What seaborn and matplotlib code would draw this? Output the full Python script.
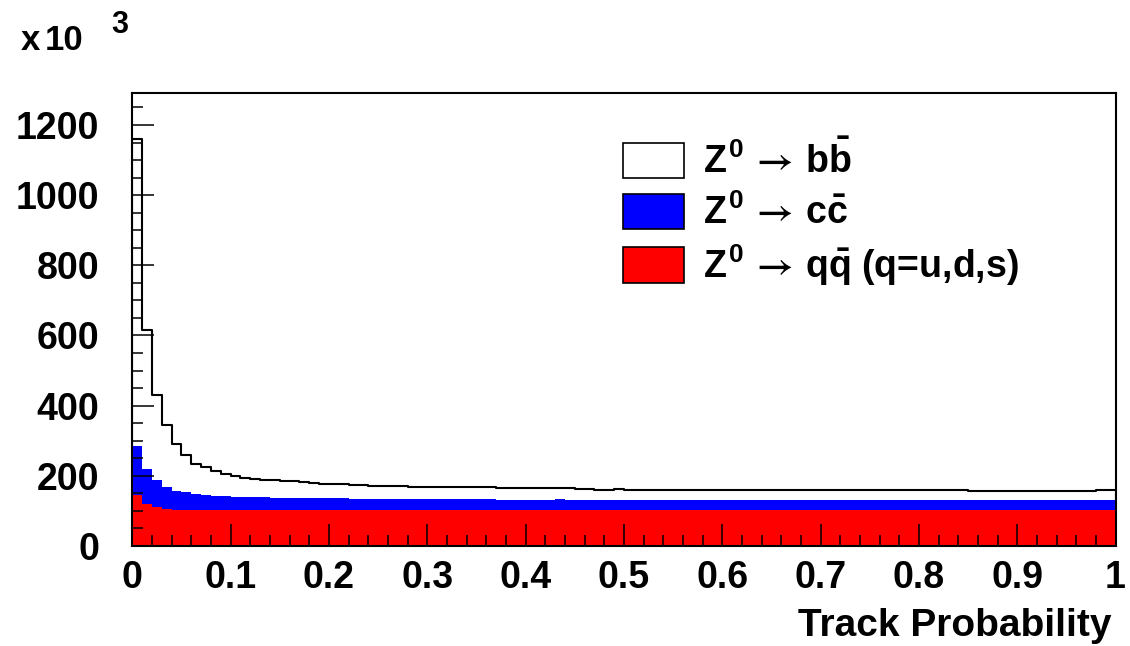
import numpy as np
import pandas as pd
import matplotlib
matplotlib.use("Agg")
import matplotlib.pyplot as plt
from matplotlib.patches import Patch
from matplotlib.ticker import MultipleLocator
import seaborn as sns

# track probability histogram, 100 bins on [0,1], counts in units of 10^3
# stacked heights as drawn: all flavours / uds+c / uds
n_bins = 100

all_flavours = [1161, 615, 430, 345, 290, 259, 234, 224, 214, 205,
                200, 195, 191, 189, 188, 186, 184, 182, 180, 178,
                177, 176, 175, 174, 172, 171, 171, 170, 169, 169,
                168, 168, 168, 167, 167, 167, 167, 166, 166, 166,
                166, 166, 166, 166, 165, 163, 163, 161, 161, 163,
                161, 160, 160, 160, 160, 160, 160, 160, 160, 160,
                160, 160, 160, 160, 160, 160, 160, 159, 159, 160,
                160, 161, 160, 160, 160, 160, 160, 160, 160, 160,
                160, 160, 160, 160, 160, 158, 158, 158, 158, 158,
                158, 158, 158, 158, 158, 158, 158, 158, 159, 159]

udsc = [284, 220, 187, 169, 158, 154, 147, 145, 143, 142,
        141, 140, 139, 139, 138, 138, 137, 137, 137, 136,
        136, 136, 135, 135, 135, 135, 134, 134, 134, 134,
        134, 133, 133, 133, 133, 133, 133, 132, 131, 132,
        132, 132, 132, 133, 132, 132, 132, 131, 131, 131,
        131, 131, 131, 131, 131, 131, 131, 131, 131, 131,
        131, 131, 131, 131, 131, 131, 131, 130, 131, 130,
        130, 130, 130, 130, 130, 130, 130, 131, 130, 130,
        131, 131, 130, 130, 131, 130, 130, 130, 130, 130,
        130, 130, 130, 130, 130, 130, 130, 130, 130, 130]

uds = [145, 119, 110, 105, 104, 104, 103, 104, 104, 103,
       103, 104, 104, 103, 103, 104, 103, 103, 104, 103,
       104, 103, 103, 104, 103, 103, 103, 104, 103, 103,
       103, 103, 104, 103, 103, 103, 103, 103, 104, 103,
       103, 103, 103, 103, 103, 103, 103, 103, 103, 103,
       104, 103, 103, 103, 103, 103, 103, 103, 103, 103,
       103, 103, 103, 103, 103, 103, 103, 103, 103, 103,
       103, 103, 103, 103, 103, 103, 103, 103, 103, 103,
       103, 103, 103, 103, 103, 103, 103, 103, 103, 103,
       103, 103, 103, 103, 103, 103, 103, 103, 103, 104]

legend_labels = [r'$Z^{0}\,\mathsf{\rightarrow}\,b\bar{b}$',
                 r'$Z^{0}\,\mathsf{\rightarrow}\,c\bar{c}$',
                 r'$Z^{0}\,\mathsf{\rightarrow}\,q\bar{q}$ (q=u,d,s)']
legend_colors = ['white', '#0000ff', '#ff0000']

df = pd.DataFrame({
    'prob': (np.arange(n_bins) + 0.5) / n_bins,
    'all': all_flavours,
    'udsc': udsc,
    'uds': uds,
})

sns.set_style("white")
plt.rcParams['font.family'] = ['Liberation Sans', 'DejaVu Sans']
plt.rcParams['font.weight'] = 'bold'
plt.rcParams['mathtext.fontset'] = 'custom'
plt.rcParams['mathtext.rm'] = 'Liberation Sans:bold'
plt.rcParams['mathtext.it'] = 'Liberation Sans:bold'
plt.rcParams['mathtext.bf'] = 'Liberation Sans:bold'
plt.rcParams['mathtext.sf'] = 'STIXGeneral'
for key in ['text.color', 'axes.labelcolor', 'xtick.color', 'ytick.color', 'axes.edgecolor']:
    plt.rcParams[key] = 'black'

fig = plt.figure(figsize=(11.3, 6.46), dpi=100)
ax = fig.add_axes([0.1171, 0.1548, 0.8701, 0.7017])

sns.histplot(data=df, x='prob', weights='all', bins=n_bins, binrange=(0, 1),
             element='step', fill=True, facecolor='white', edgecolor='black',
             linewidth=1.5, alpha=1, ax=ax)
sns.histplot(data=df, x='prob', weights='udsc', bins=n_bins, binrange=(0, 1),
             element='step', fill=True, facecolor='#0000ff', edgecolor='none',
             linewidth=0, alpha=1, ax=ax)
sns.histplot(data=df, x='prob', weights='uds', bins=n_bins, binrange=(0, 1),
             element='step', fill=True, facecolor='#ff0000', edgecolor='none',
             linewidth=0, alpha=1, ax=ax)

ax.set_xlim(0, 1)
ax.set_ylim(0, 1292)
ax.set_ylabel('')
ax.set_xlabel('Track Probability', fontsize=28, fontweight='bold', loc='right')
ax.xaxis.set_label_coords(0.9964, -0.137)

ax.xaxis.set_major_locator(MultipleLocator(0.1))
ax.xaxis.set_minor_locator(MultipleLocator(0.02))
ax.yaxis.set_major_locator(MultipleLocator(200))
ax.yaxis.set_minor_locator(MultipleLocator(50))
ax.set_xticks(np.arange(0, 1.01, 0.1))
ax.set_xticklabels(['0', '0.1', '0.2', '0.3', '0.4', '0.5', '0.6', '0.7', '0.8', '0.9', '1'])
ax.tick_params(axis='both', which='major', direction='in', length=16, width=1.1,
               labelsize=27, bottom=True, left=True, top=False, right=False)
ax.tick_params(axis='both', which='minor', direction='in', length=8, width=1.1,
               bottom=True, left=True, top=False, right=False)
ax.tick_params(axis='y', which='major', pad=24)
ax.tick_params(axis='x', which='major', pad=10)
for lab in ax.get_xticklabels() + ax.get_yticklabels():
    lab.set_fontweight('bold')
for sp in ax.spines.values():
    sp.set_linewidth(1.5)
    sp.set_color('black')
ax.set_axisbelow(False)

# one legend per row so the rows sit at an even pitch
row_centres = [161, 213, 265]
for label, colour, yc in zip(legend_labels, legend_colors, row_centres):
    fig.legend([Patch(facecolor=colour, edgecolor='black', linewidth=1.2)], [label],
               loc='center left', bbox_to_anchor=(623 / 1130, 1 - yc / 646),
               frameon=False, handlelength=1.63, handleheight=1.07,
               handletextpad=0.5, borderpad=0, borderaxespad=0,
               prop={'weight': 'bold', 'size': 27})

fig.text(21 / 1130, 1 - 50 / 646, 'x', fontsize=25, fontweight='bold',
         ha='left', va='baseline')
fig.text(45 / 1130, 1 - 50 / 646, '10', fontsize=25, fontweight='bold',
         ha='left', va='baseline')
fig.text(111 / 1130, 1 - 33 / 646, '3', fontsize=22, fontweight='bold',
         ha='left', va='baseline')

fig.savefig('out.png', dpi=100)
